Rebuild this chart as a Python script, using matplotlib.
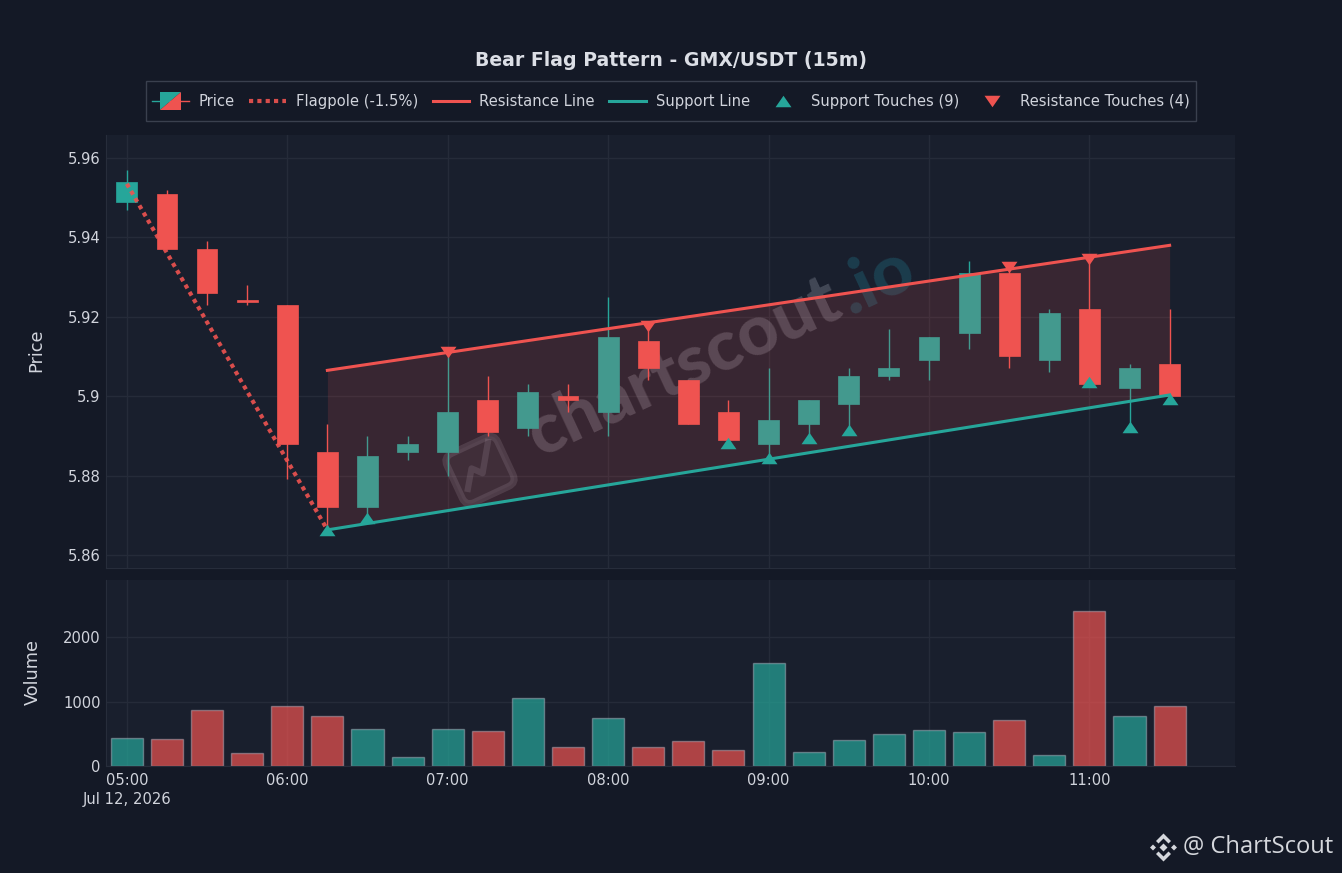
import matplotlib
matplotlib.use("Agg")
import matplotlib.pyplot as plt
from matplotlib.legend_handler import HandlerBase
from matplotlib.lines import Line2D
from matplotlib.patches import FancyBboxPatch, Polygon, Rectangle
from matplotlib.transforms import Affine2D

plt.rcParams['font.family'] = ['DejaVu Sans']

# ---- data ----
opens  = [5.949, 5.951, 5.937, 5.9243, 5.923, 5.886, 5.872, 5.886, 5.886, 5.899, 5.892, 5.900, 5.896, 5.914,
          5.904, 5.896, 5.888, 5.893, 5.898, 5.905, 5.909, 5.916, 5.931, 5.909, 5.922, 5.902, 5.908]
closes = [5.954, 5.937, 5.926, 5.9238, 5.888, 5.872, 5.885, 5.888, 5.896, 5.891, 5.901, 5.899, 5.915, 5.907,
          5.893, 5.889, 5.894, 5.899, 5.905, 5.907, 5.915, 5.931, 5.910, 5.921, 5.903, 5.907, 5.900]
highs  = [5.957, 5.952, 5.939, 5.928, 5.923, 5.893, 5.890, 5.890, 5.911, 5.905, 5.903, 5.903, 5.925, 5.918,
          5.904, 5.899, 5.907, 5.899, 5.907, 5.917, 5.915, 5.934, 5.933, 5.922, 5.935, 5.908, 5.922]
lows   = [5.947, 5.937, 5.923, 5.923, 5.879, 5.866, 5.869, 5.884, 5.880, 5.890, 5.890, 5.896, 5.890, 5.904,
          5.893, 5.888, 5.884, 5.889, 5.891, 5.904, 5.904, 5.912, 5.907, 5.906, 5.903, 5.892, 5.899]
volumes = [440, 420, 870, 195, 930, 780, 575, 140, 580, 550, 1060, 290, 750, 300, 390, 245, 1590, 215, 410,
           500, 555, 530, 710, 165, 2410, 770, 925]
tick_pos = [0, 4, 8, 12, 16, 20, 24]
tick_labels = ["05:00\nJul 12, 2026", "06:00", "07:00", "08:00", "09:00", "10:00", "11:00"]
price_ticks = [5.86, 5.88, 5.90, 5.92, 5.94, 5.96]
price_tick_labels = ["5.86", "5.88", "5.9", "5.92", "5.94", "5.96"]
volume_ticks = [0, 1000, 2000]
flagpole_x, flagpole_y = [0, 5], [5.9535, 5.8663]
support_x, support_y = [5, 26], [5.8663, 5.9003]
resistance_x, resistance_y = [5, 26], [5.9065, 5.938]
support_touch_x = [5, 6, 15, 16, 17, 18, 24, 25, 26]
support_touch_y = [5.8663, 5.8692, 5.8883, 5.8843, 5.8894, 5.8914, 5.9035, 5.8923, 5.8994]
resist_touch_x = [8, 13, 22, 24]
resist_touch_y = [5.911, 5.9178, 5.9326, 5.9346]

# ---- style ----
W, H = 1342, 873
FIG_BG, AX_BG = "#141926", "#191f2d"
UP, DOWN = "#26a69a", "#ef5350"
TXT = "#d1d4dc"
GRID = "#252b39"
SPINE = "#272d3b"
FS = 10.6
TRI_UP = [(-1, -0.72), (1, -0.72), (0, 0.72)]
TRI_DOWN = [(-1, 0.72), (1, 0.72), (0, -0.72)]

fig = plt.figure(figsize=(W / 100, H / 100), dpi=100, facecolor=FIG_BG)


def axes_px(left, top, right, bottom):
    return fig.add_axes([left / W, 1 - bottom / H, (right - left) / W, (bottom - top) / H])


ax = axes_px(106, 135, 1235, 568)
axv = axes_px(106, 580, 1235, 766)
xlim = (-0.52, 27.63)
px = Affine2D().scale(1, -1).translate(0, H)  # reference pixels -> display

for a in (ax, axv):
    a.set_facecolor(AX_BG)
    a.set_xlim(*xlim)
    a.grid(True, color=GRID, linewidth=1, zorder=0)
    a.set_axisbelow(True)
    a.tick_params(length=0, colors=TXT, labelsize=FS)
    a.tick_params(axis="y", pad=4)
    a.tick_params(axis="x", pad=5)
    a.set_xticks(tick_pos)
    for s in ("top", "right"):
        a.spines[s].set_visible(False)
    for s in ("left", "bottom"):
        a.spines[s].set_color(SPINE)

# watermark (beneath the price marks)
wm_gray = (0.72, 0.74, 0.80, 0.26)
wm_icon = (0.72, 0.74, 0.80, 0.17)
wm_teal = (0.15, 0.65, 0.75, 0.22)
ax.text(684, 367, "chartscout", transform=px, rotation=25, rotation_mode="anchor", ha="center", va="center",
        fontsize=51, fontweight=900, family="Lato", color=wm_gray, zorder=1.5)
ax.text(876, 280, ".io", transform=px, rotation=25, rotation_mode="anchor", ha="center", va="center",
        fontsize=51, fontweight=900, family="Lato", color=wm_teal, zorder=1.5)
icon_rot = Affine2D().rotate_deg_around(480, 470, -25) + px
ax.add_patch(FancyBboxPatch((452, 443), 56, 54, boxstyle="round,pad=0,rounding_size=9", transform=icon_rot,
                            fill=True, facecolor=(0.72, 0.74, 0.80, 0.06), edgecolor=wm_icon, linewidth=5,
                            zorder=1.5))
ax.add_line(Line2D([461, 473, 481, 499], [482, 465, 474, 448], transform=icon_rot, color=wm_icon, linewidth=4.5,
                   zorder=1.5))

# candles
for i in range(len(opens)):
    c = UP if closes[i] >= opens[i] else DOWN
    ax.plot([i, i], [lows[i], highs[i]], color=c, linewidth=1, zorder=2, solid_capstyle="butt")
    lo, hi = min(opens[i], closes[i]), max(opens[i], closes[i])
    ax.bar(i, hi - lo, 0.52, lo, color=c, linewidth=0.5, edgecolor=c, zorder=2.2)

# flag channel
ax.fill_between(resistance_x, support_y, resistance_y, color=DOWN, alpha=0.15, linewidth=0, zorder=3)
ax.plot(flagpole_x, flagpole_y, color=DOWN, linestyle=(0, (1, 1)), linewidth=3, alpha=0.9, zorder=4,
        label="Flagpole (-1.5%)")
ax.plot(resistance_x, resistance_y, color=DOWN, linewidth=2.2, zorder=4, label="Resistance Line")
ax.plot(support_x, support_y, color=UP, linewidth=2.2, zorder=4, label="Support Line")
ax.plot(support_touch_x, support_touch_y, linestyle="none", marker=TRI_UP, ms=11.5, mec="none", color=UP, zorder=5,
        label="Support Touches (9)")
ax.plot(resist_touch_x, resist_touch_y, linestyle="none", marker=TRI_DOWN, ms=11.5, mec="none", color=DOWN, zorder=5,
        label="Resistance Touches (4)")

ax.set_ylim(5.8567, 5.9658)
ax.set_yticks(price_ticks)
ax.set_yticklabels(price_tick_labels)
ax.tick_params(labelbottom=False)
ax.set_ylabel("Price", color=TXT, fontsize=12.8)
ax.yaxis.set_label_coords(45 / W, 1 - 350 / H, transform=fig.transFigure)

# volume
bar_colors = [UP if closes[i] >= opens[i] else DOWN for i in range(len(volumes))]
axv.bar(range(len(volumes)), volumes, 0.8, color=[matplotlib.colors.to_rgba(c, 0.7) for c in bar_colors],
        edgecolor=(0.8, 0.8, 0.85, 0.4), linewidth=1, zorder=2)
axv.set_ylim(0, 2884)
axv.set_yticks(volume_ticks)
axv.set_xticklabels(tick_labels, linespacing=1.35)
axv.set_ylabel("Volume", color=TXT, fontsize=12.8)
axv.yaxis.set_label_coords(42 / W, 1 - 672 / H, transform=fig.transFigure)


# legend
class PriceHandle:
    pass


class PriceHandler(HandlerBase):
    def create_artists(self, legend, orig, xd, yd, width, height, fontsize, trans):
        m = height / 2 - yd
        x0, x1 = -xd + width * 0.21, -xd + width * 0.79
        y0, y1 = m - height * 0.85, m + height * 0.85
        xm = -xd + width / 2
        return [
            Line2D([-xd, xm], [m, m], color=UP, lw=1, transform=trans),
            Line2D([xm, -xd + width], [m, m], color=DOWN, lw=1, transform=trans),
            Polygon([(x0, y0), (x0, y1), (x1, y1)], closed=True, fc=UP, ec="none", transform=trans),
            Polygon([(x0, y0), (x1, y0), (x1, y1)], closed=True, fc=DOWN, ec="none", transform=trans),
        ]


fig.add_artist(Rectangle((146, 81), 1050, 40, transform=px, fc=FIG_BG, ec="#3a404e", lw=1))
handles, labels = ax.get_legend_handles_labels()
handles = [PriceHandle()] + handles
labels = ["Price"] + labels
leg = fig.legend(handles, labels, handler_map={PriceHandle: PriceHandler()}, ncol=6, loc="center",
                 bbox_to_anchor=(671 / W, 1 - 101.5 / H), fontsize=FS, frameon=False, labelcolor=TXT,
                 handlelength=2.5, columnspacing=1.0, handletextpad=0.65, borderpad=0.5)

fig.text(671 / W, 1 - 60 / H, "Bear Flag Pattern - GMX/USDT (15m)", ha="center", va="center", color="#dcdfe6",
         fontsize=13.6, fontweight="bold")

# brand mark
fig.text(1183 / W, 1 - 847 / H, "@ ChartScout", ha="left", va="center", color="#d5d7dc", fontsize=17.1,
         family="Open Sans")
logo = Affine2D().translate(1163.5, 847.5) + px
for pts in ([(0, -14), (7.5, -6.5), (5, -4), (0, -9), (-5, -4), (-7.5, -6.5)],
            [(0, 14), (7.5, 6.5), (5, 4), (0, 9), (-5, 4), (-7.5, 6.5)],
            [(0, -4), (4, 0), (0, 4), (-4, 0)],
            [(-13.5, 0), (-10.5, -3), (-7.5, 0), (-10.5, 3)],
            [(13.5, 0), (10.5, -3), (7.5, 0), (10.5, 3)]):
    fig.add_artist(Polygon(pts, closed=True, fc="#d5d7dc", ec="none", transform=logo))

fig.savefig("out.png", dpi=100, facecolor=FIG_BG)
